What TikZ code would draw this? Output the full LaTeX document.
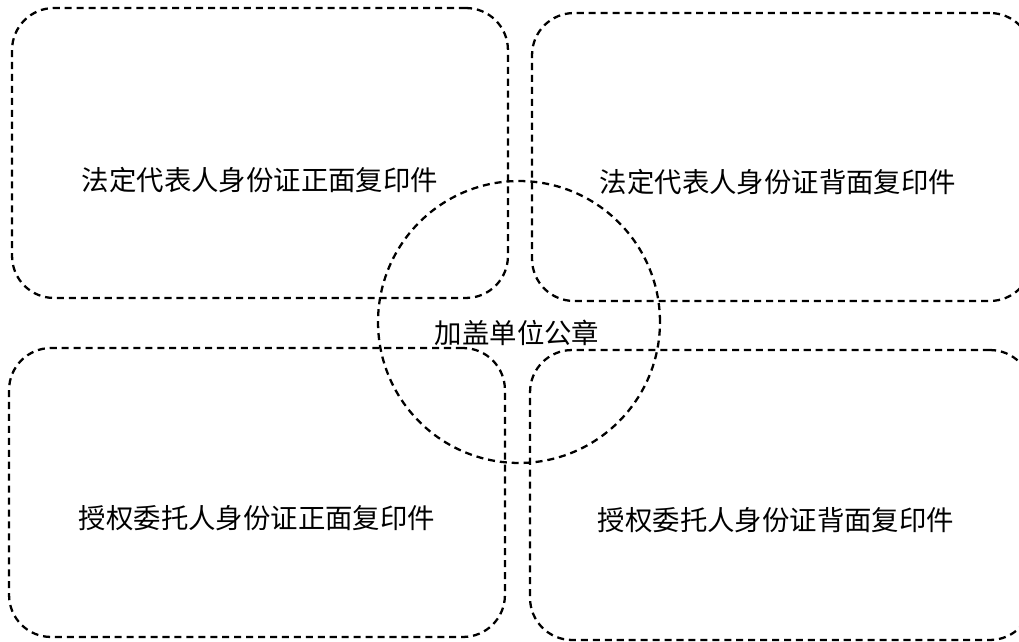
\documentclass[tikz,border=0pt]{standalone}
\usepackage{fontspec}
\setmainfont{Noto Sans CJK SC}
\usetikzlibrary{positioning}
\tikzstyle{dashline}=[draw=black, line width=1.3pt, dash pattern=on 4pt off 2.8pt]
\tikzstyle{card}=[dashline, rounded corners=0.84cm, inner sep=0pt]
\tikzstyle{seal}=[dashline, circle, minimum size=5.64cm, inner sep=0pt]
\tikzstyle{caption}=[font=\fontsize{15.6pt}{18pt}\selectfont, inner sep=0pt]

\begin{document}
\begin{tikzpicture}[x=0.02cm, y=-0.02cm]
\useasboundingbox (0,0) rectangle (1019,642);
\node[card, minimum width=9.92cm, minimum height=5.8cm] (front1) at (260,153){};
\node[card, minimum width=10cm, minimum height=5.76cm] (back1) at (782,157){};
\node[card, minimum width=9.92cm, minimum height=5.78cm] (front2) at (257,492.5){};
\node[card, minimum width=10.04cm, minimum height=5.8cm] (back2) at (781,495){};
\node[seal] (stamp) at (519,322){};
\node[caption] (front1txt) at (260,180){法定代表人身份证正面复印件};
\node[caption] (back1txt) at (778,182){法定代表人身份证背面复印件};
\node[caption] (stamptxt) at (517,333){加盖单位公章};
\node[caption] (front2txt) at (257,518){授权委托人身份证正面复印件};
\node[caption] (back2txt) at (776,520){授权委托人身份证背面复印件};
\end{tikzpicture}
\end{document}
